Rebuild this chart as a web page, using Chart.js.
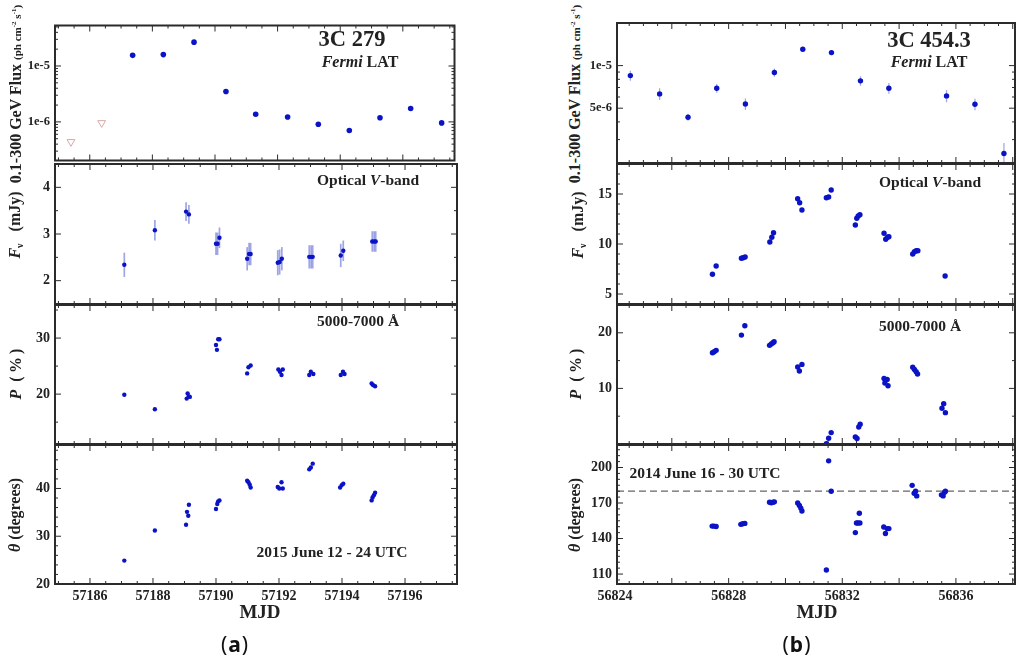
<!DOCTYPE html>
<html>
<head>
<meta charset="utf-8">
<script src="https://cdn.jsdelivr.net/npm/chart.js@4.4.1/dist/chart.umd.min.js"></script>
<style>
  html, body { margin: 0; padding: 0; background: #fff; }
  body { width: 1024px; height: 662px; position: relative; overflow: hidden;
         font-family: "Liberation Serif", "DejaVu Serif", serif; color: #222; }
  .box { position: absolute; }
  .txt { position: absolute; font-weight: bold; white-space: nowrap; line-height: 1;
         transform: translateX(-50%); z-index: 2; }
  .yt { position: absolute; width: 260px; height: 20px; margin-left: -130px; margin-top: -10px;
        line-height: 20px; text-align: center; font-weight: bold; font-size: 16px;
        white-space: nowrap; transform: rotate(-90deg); z-index: 2; }
  .yt small { font-size: 11px; }
  .yt sup { font-size: 7px; vertical-align: 5px; line-height: 0; }
  .yt sub { font-size: 10px; vertical-align: -3px; line-height: 0; }
  .cap { position: absolute; font-family: "Noto Sans", sans-serif; font-size: 21px; line-height: 1;
         transform: translateX(-50%); z-index: 2; letter-spacing: 1px; color: #111; }
</style>
</head>
<body>

<div class="yt" style="left:15.5px; top:94px">0.1-300 GeV Flux <small>(ph cm<sup>-2</sup> s<sup>-1</sup>)</small></div>
<div class="yt" style="left:15px; top:225px"><i>F</i><sub>ν</sub>&nbsp;&nbsp;&nbsp;(mJy)</div>
<div class="yt" style="left:15.5px; top:374px"><i>P</i>&nbsp;&nbsp;(&thinsp;%&thinsp;)</div>
<div class="yt" style="left:15px; top:515px"><i>θ</i> (degrees)</div>

<div class="yt" style="left:575px; top:94px">0.1-300 GeV Flux <small>(ph cm<sup>-2</sup> s<sup>-1</sup>)</small></div>
<div class="yt" style="left:578px; top:225px"><i>F</i><sub>ν</sub>&nbsp;&nbsp;&nbsp;(mJy)</div>
<div class="yt" style="left:576px; top:374px"><i>P</i>&nbsp;&nbsp;(&thinsp;%&thinsp;)</div>
<div class="yt" style="left:575px; top:515px"><i>θ</i> (degrees)</div>

<div class="txt" style="left:352px; top:28px; font-size:22.5px">3C 279</div>
<div class="txt" style="left:360px; top:54px; font-size:16px"><i>Fermi</i> LAT</div>
<div class="txt" style="left:368px; top:172px; font-size:15.5px">Optical <i>V</i>-band</div>
<div class="txt" style="left:358px; top:313px; font-size:15.5px">5000-7000 Å</div>
<div class="txt" style="left:332px; top:544px; font-size:15.5px">2015 June 12 - 24 UTC</div>
<div class="txt" style="left:260px; top:602px; font-size:19px">MJD</div>
<div class="cap" style="left:235px; top:634px">(<b>a</b>)</div>

<div class="txt" style="left:929px; top:29px; font-size:22.5px">3C 454.3</div>
<div class="txt" style="left:929px; top:54px; font-size:16px"><i>Fermi</i> LAT</div>
<div class="txt" style="left:930px; top:174px; font-size:15.5px">Optical <i>V</i>-band</div>
<div class="txt" style="left:920px; top:318px; font-size:15.5px">5000-7000 Å</div>
<div class="txt" style="left:705px; top:465px; font-size:15.5px">2014 June 16 - 30 UTC</div>
<div class="txt" style="left:817px; top:602px; font-size:19px">MJD</div>
<div class="cap" style="left:797px; top:634px">(<b>b</b>)</div>

<script>
// ---------- (a) 3C 279, 2015 June ----------
var fermiMjdA  = [57187.37, 57188.35, 57189.33, 57190.35, 57191.30, 57192.32, 57193.30, 57194.29, 57195.27, 57196.25, 57197.24];
var fermiFluxA = [1.55e-5, 1.60e-5, 2.67e-5, 3.5e-6, 1.37e-6, 1.22e-6, 9.1e-7, 7.0e-7, 1.19e-6, 1.74e-6, 9.6e-7];
var fermiErrA  = [1.0e-6, 1.0e-6, 1.5e-6, 2.5e-7, 1.0e-7, 1.0e-7, 8e-8, 7e-8, 1.0e-7, 1.3e-7, 9e-8];
var ulMjdA     = [57185.40, 57186.38];
var ulFluxA    = [4.4e-7, 9.6e-7];

var optMjdA  = [57187.09, 57188.06, 57189.05, 57189.14, 57190.00, 57190.05, 57190.11, 57190.99, 57191.05, 57191.10,
                57191.96, 57192.02, 57192.09, 57192.96, 57193.02, 57193.07, 57193.96, 57194.04, 57194.96, 57195.02, 57195.07];
var optFluxA = [2.34, 3.08, 3.48, 3.42, 2.79, 2.79, 2.92, 2.47, 2.57, 2.57,
                2.385, 2.40, 2.47, 2.51, 2.51, 2.51, 2.54, 2.64, 2.84, 2.84, 2.84];
var optErrA  = [0.26, 0.22, 0.20, 0.20, 0.24, 0.24, 0.22, 0.25, 0.24, 0.24,
                0.27, 0.27, 0.25, 0.25, 0.25, 0.25, 0.25, 0.22, 0.22, 0.22, 0.22];

var polMjdA = [57187.09, 57188.06, 57189.07, 57189.10, 57189.14, 57189.17, 57190.00, 57190.03, 57190.07, 57190.11,
               57190.99, 57191.03, 57191.10, 57191.98, 57192.03, 57192.08, 57192.12, 57192.96, 57193.01, 57193.09,
               57193.96, 57194.03, 57194.08, 57194.94, 57194.99, 57195.05];
var polPctA = [19.9, 17.3, 19.2, 20.1, 19.6, 19.5, 28.75, 27.9, 29.8, 29.8,
               23.7, 24.8, 25.1, 24.4, 24.0, 23.4, 24.4, 23.4, 24.0, 23.6,
               23.4, 24.0, 23.6, 21.9, 21.6, 21.4];

var angMjdA = [57187.09, 57188.06, 57189.05, 57189.08, 57189.12, 57189.14, 57190.00, 57190.04, 57190.07, 57190.11,
               57190.99, 57191.03, 57191.07, 57191.10, 57191.96, 57192.01, 57192.08, 57192.12, 57192.96, 57193.01,
               57193.07, 57193.94, 57193.99, 57194.04, 57194.94, 57194.97, 57195.01, 57195.05];
var angDegA = [24.9, 31.2, 32.4, 35.1, 34.3, 36.6, 35.7, 36.75, 37.3, 37.5,
               41.6, 41.3, 40.8, 40.2, 40.3, 40.0, 41.3, 40.0, 44.0, 44.4,
               45.2, 40.2, 40.7, 41.0, 37.5, 38.1, 38.6, 39.1];

var mjdTicksA  = [57186, 57188, 57190, 57192, 57194, 57196];
var fluxTicksA = [1e-6, 1e-5];
var fluxLabelsA = ['1e-6', '1e-5'];
var fnuTicksA  = [2, 3, 4];
var polTicksA  = [20, 30];
var angTicksA  = [20, 30, 40];

// ---------- (b) 3C 454.3, 2014 June ----------
var fermiMjdB  = [56824.54, 56825.57, 56826.57, 56827.58, 56828.59, 56829.61, 56830.61, 56831.62, 56832.64, 56833.64,
                  56835.67, 56836.67, 56837.69];
var fermiFluxB = [8.5e-6, 6.31e-6, 4.32e-6, 6.92e-6, 5.36e-6, 8.93e-6, 1.306e-5, 1.236e-5, 7.8e-6, 6.92e-6,
                  6.11e-6, 5.33e-6, 2.39e-6];
var fermiErrB  = [7e-7, 6e-7, 2.5e-7, 5e-7, 5e-7, 6e-7, 5e-7, 5e-7, 6e-7, 6e-7, 6e-7, 5e-7, 4.5e-7];

var optMjdB  = [56827.43, 56827.56, 56828.45, 56828.51, 56828.58, 56829.45, 56829.52, 56829.58, 56830.43, 56830.50,
                56830.58, 56831.44, 56831.52, 56831.61, 56832.46, 56832.51, 56832.56, 56832.62, 56833.47, 56833.53,
                56833.59, 56833.64, 56834.48, 56834.54, 56834.60, 56834.66, 56835.62];
var optFluxB = [6.97, 7.8, 8.57, 8.63, 8.7, 10.2, 10.67, 11.13, 14.53, 14.13,
                13.4, 14.63, 14.7, 15.4, 11.9, 12.57, 12.8, 12.93, 11.07, 10.47,
                10.67, 10.73, 9.0, 9.23, 9.33, 9.33, 6.8];

var polMjdB = [56827.43, 56827.49, 56827.56, 56828.45, 56828.57, 56829.44, 56829.50, 56829.56, 56829.60, 56830.43,
               56830.49, 56830.58, 56831.44, 56831.52, 56831.61, 56832.46, 56832.52, 56832.58, 56832.63, 56833.47,
               56833.58, 56833.50, 56833.61, 56834.48, 56834.54, 56834.60, 56834.65, 56835.51, 56835.57, 56835.63];
var polPctB = [16.4, 16.6, 16.84, 19.59, 21.26, 17.74, 17.98, 18.2, 18.38, 13.84,
               13.12, 14.32, 0.07, 1.04, 2.05, 1.28, 0.98, 3.07, 3.55, 11.8,
               11.6, 10.97, 10.49, 13.8, 13.4, 13.0, 12.6, 6.43, 7.26, 5.64];

var angMjdB = [56827.42, 56827.48, 56827.56, 56828.43, 56828.50, 56828.57, 56829.44, 56829.50, 56829.56, 56829.61,
               56830.43, 56830.49, 56830.54, 56830.58, 56831.41, 56831.44, 56831.52, 56831.61, 56832.46, 56832.46,
               56832.50, 56832.55, 56832.62, 56832.60, 56833.46, 56833.52, 56833.58, 56833.64, 56834.46, 56834.53,
               56834.58, 56834.62, 56835.49, 56835.55, 56835.60, 56835.63];
var angDegB = [150.5, 150.5, 150.2, 152, 152.5, 152.8, 170.7, 170.2, 170.7, 171,
               170.1, 167.9, 165.7, 163.2, 221, 113.4, 205.6, 179.9, 222, 145,
               153.1, 153.1, 153.1, 161.4, 149.7, 144.2, 148.4, 148.4, 184.9, 178.2,
               180, 176, 176.9, 176, 179, 179.9];
var refAngleB = 180;

var mjdTicksB  = [56824, 56828, 56832, 56836];
var fluxTicksB = [5e-6, 1e-5];
var fluxLabelsB = ['5e-6', '1e-5'];
var fnuTicksB  = [5, 10, 15];
var polTicksB  = [10, 20];
var angTicksB  = [110, 140, 170, 200];

// ---------- layout ----------
var BLUE = '#0b13c6';
var ROW_TOP = [23, 164, 305, 445];
var ROW_BOTTOM = [163, 304, 444, 584];
var PAD = 3;
var X_AXIS_H = 30;
var TICK_FONT = { family: '"Liberation Serif", serif', size: 14, weight: 'bold' };
var LOG_FONT = { family: '"Liberation Serif", serif', size: 12.5, weight: 'bold' };

function pts(xs, ys) {
    return xs.map(function (x, i) { return { x: x, y: ys[i] }; });
}

function dots(xs, ys, r, errs, errWidth) {
    var ds = {
        data: pts(xs, ys),
        pointRadius: r,
        pointBackgroundColor: BLUE,
        pointBorderWidth: 0,
        pointHoverRadius: r
    };
    if (errs) {
        ds.errors = errs;
        ds.errorColor = 'rgba(80, 90, 205, 0.55)';
        ds.errorWidth = errWidth || 1.2;
    }
    return ds;
}

var overlay = {
    id: 'overlay',
    beforeDatasetsDraw: function (chart, args, o) {
        var ctx = chart.ctx, a = chart.chartArea, x = chart.scales.x, y = chart.scales.y;
        ctx.save();
        ctx.beginPath();
        ctx.rect(a.left, a.top, a.right - a.left, a.bottom - a.top);
        ctx.clip();
        if (o.refLine != null) {
            var py = y.getPixelForValue(o.refLine);
            ctx.setLineDash([7, 4]);
            ctx.strokeStyle = '#666';
            ctx.lineWidth = 1.2;
            ctx.beginPath();
            ctx.moveTo(a.left, py);
            ctx.lineTo(a.right, py);
            ctx.stroke();
            ctx.setLineDash([]);
        }
        chart.data.datasets.forEach(function (ds) {
            if (!ds.errors) return;
            ctx.strokeStyle = ds.errorColor;
            ctx.lineWidth = ds.errorWidth;
            ds.data.forEach(function (p, i) {
                var px = x.getPixelForValue(p.x);
                ctx.beginPath();
                ctx.moveTo(px, y.getPixelForValue(p.y - ds.errors[i]));
                ctx.lineTo(px, y.getPixelForValue(p.y + ds.errors[i]));
                ctx.stroke();
            });
        });
        ctx.restore();
    },
    afterDatasetsDraw: function (chart, args, o) {
        var ctx = chart.ctx, a = chart.chartArea, x = chart.scales.x, y = chart.scales.y;
        ctx.save();
        ctx.strokeStyle = '#2b2b2b';
        ctx.lineWidth = 1;
        function tick(x1, y1, x2, y2) {
            ctx.beginPath(); ctx.moveTo(x1, y1); ctx.lineTo(x2, y2); ctx.stroke();
        }
        // inward ticks on top and bottom
        var start = Math.ceil((x.min - o.xBase) / 0.5);
        for (var i = start; o.xBase + i * 0.5 <= x.max; i++) {
            var px = x.getPixelForValue(o.xBase + i * 0.5);
            var len = (i % 4 === 0) ? 6 : 3;
            tick(px, a.bottom, px, a.bottom - len);
            tick(px, a.top, px, a.top + len);
        }
        // inward ticks on left and right
        var yt = [];
        if (o.log) {
            for (var e = Math.floor(Math.log10(y.min)); e <= Math.ceil(Math.log10(y.max)); e++) {
                for (var k = 1; k < 10; k++) {
                    var v = k * Math.pow(10, e);
                    if (v >= y.min && v <= y.max) {
                        yt.push([v, k === 1 || o.yMajors.some(function (m) { return Math.abs(m / v - 1) < 1e-6; })]);
                    }
                }
            }
        } else {
            var j0 = Math.ceil(y.min / o.yMinor);
            for (var j = j0; j * o.yMinor <= y.max + 1e-9; j++) {
                var val = j * o.yMinor;
                yt.push([val, o.yMajors.some(function (m) { return Math.abs(m - val) < 1e-6; })]);
            }
        }
        yt.forEach(function (t) {
            var py = y.getPixelForValue(t[0]);
            var l = t[1] ? 6 : 3;
            tick(a.left, py, a.left + l, py);
            tick(a.right, py, a.right - l, py);
        });
        ctx.lineWidth = 2;
        ctx.strokeRect(a.left, a.top, a.right - a.left, a.bottom - a.top);
        ctx.restore();
    }
};

function makePanel(col, row, p) {
    var bottom = row === 3;
    var top = ROW_TOP[row], bot = ROW_BOTTOM[row];
    var div = document.createElement('div');
    div.className = 'box';
    div.style.left = col.canvasL + 'px';
    div.style.top = (top - PAD) + 'px';
    div.style.width = (col.frameR + PAD - col.canvasL) + 'px';
    div.style.height = (bot - top + PAD + (bottom ? X_AXIS_H : PAD)) + 'px';
    var cv = document.createElement('canvas');
    div.appendChild(cv);
    document.body.appendChild(div);

    var labels = p.yLabels || p.yTicks.map(String);

    new Chart(cv, {
        type: 'scatter',
        data: { datasets: p.datasets },
        options: {
            responsive: true,
            maintainAspectRatio: false,
            animation: false,
            events: [],
            layout: { padding: { left: 0, top: PAD, right: PAD, bottom: bottom ? 0 : PAD } },
            plugins: {
                legend: { display: false },
                tooltip: { enabled: false },
                overlay: { xBase: col.xTicks[0], log: p.yType === 'logarithmic', yMajors: p.yTicks,
                           yMinor: p.yMinor, refLine: p.refLine }
            },
            scales: {
                x: {
                    type: 'linear',
                    min: col.xMin,
                    max: col.xMax,
                    display: bottom,
                    grid: { display: false, drawTicks: false },
                    border: { display: false },
                    afterBuildTicks: function (s) { s.ticks = col.xTicks.map(function (v) { return { value: v }; }); },
                    ticks: { autoSkip: false, maxRotation: 0, padding: 4, color: '#222', font: TICK_FONT,
                             callback: function (v) { return String(v); } },
                    afterFit: function (s) { s.height = bottom ? X_AXIS_H : 0; s.paddingLeft = 0; s.paddingRight = 0; }
                },
                y: {
                    type: p.yType || 'linear',
                    min: p.yMin,
                    max: p.yMax,
                    grid: { display: false, drawTicks: false },
                    border: { display: false },
                    afterBuildTicks: function (s) { s.ticks = p.yTicks.map(function (v) { return { value: v }; }); },
                    ticks: { autoSkip: false, padding: 5, color: '#222',
                             font: p.yType === 'logarithmic' ? LOG_FONT : TICK_FONT,
                             callback: function (v, i) { return labels[i]; } },
                    afterFit: function (s) { s.width = col.frameL - col.canvasL; s.paddingTop = 0; s.paddingBottom = 0; }
                }
            }
        },
        plugins: [overlay]
    });
}

var colA = { canvasL: 0, frameL: 55, frameR: 457, xMin: 57184.89, xMax: 57197.65, xTicks: mjdTicksA };
var colB = { canvasL: 585, frameL: 617, frameR: 1015, xMin: 56824.07, xMax: 56838.08, xTicks: mjdTicksB };

var upperLimitsA = {
    data: pts(ulMjdA, ulFluxA),
    pointStyle: 'triangle',
    pointRotation: 180,
    pointRadius: 4.5,
    pointBackgroundColor: 'rgba(0,0,0,0)',
    pointBorderColor: '#d6a9a9',
    pointBorderWidth: 1
};

makePanel(colA, 0, { yType: 'logarithmic', yMin: 2.04e-7, yMax: 5.3e-5, yTicks: fluxTicksA, yLabels: fluxLabelsA,
                     datasets: [dots(fermiMjdA, fermiFluxA, 2.8, fermiErrA), upperLimitsA] });
makePanel(colA, 1, { yMin: 1.5, yMax: 4.5, yTicks: fnuTicksA, yMinor: 0.5,
                     datasets: [dots(optMjdA, optFluxA, 2.2, optErrA, 1.7)] });
makePanel(colA, 2, { yMin: 11.1, yMax: 35.9, yTicks: polTicksA, yMinor: 5,
                     datasets: [dots(polMjdA, polPctA, 2.2)] });
makePanel(colA, 3, { yMin: 20, yMax: 49.1, yTicks: angTicksA, yMinor: 2,
                     datasets: [dots(angMjdA, angDegA, 2.2)] });

makePanel(colB, 0, { yType: 'logarithmic', yMin: 2.05e-6, yMax: 2.0e-5, yTicks: fluxTicksB, yLabels: fluxLabelsB,
                     datasets: [dots(fermiMjdB, fermiFluxB, 2.7, fermiErrB)] });
makePanel(colB, 1, { yMin: 4, yMax: 18, yTicks: fnuTicksB, yMinor: 1,
                     datasets: [dots(optMjdB, optFluxB, 2.7)] });
makePanel(colB, 2, { yMin: 0, yMax: 25, yTicks: polTicksB, yMinor: 5,
                     datasets: [dots(polMjdB, polPctB, 2.7)] });
makePanel(colB, 3, { yMin: 101.6, yMax: 219, yTicks: angTicksB, yMinor: 5, refLine: refAngleB,
                     datasets: [dots(angMjdB, angDegB, 2.7)] });
</script>
</body>
</html>
